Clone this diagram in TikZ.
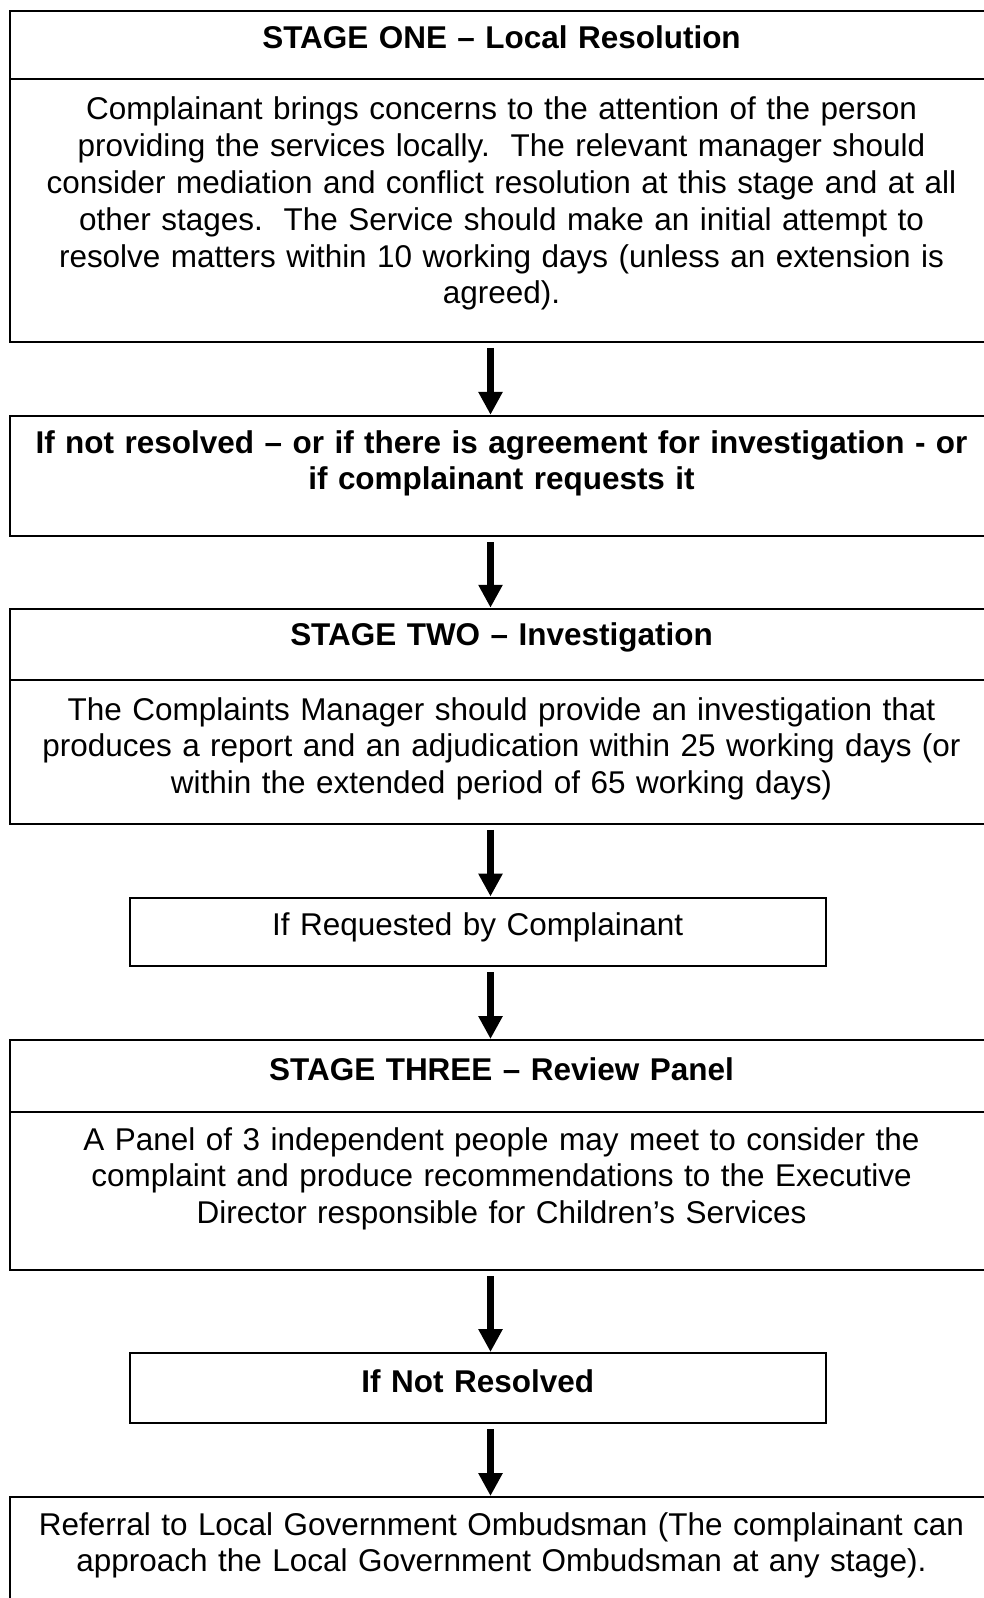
\documentclass[tikz,border=0pt]{standalone}
\usepackage{fontspec}
\setmainfont{Liberation Sans}
\usetikzlibrary{arrows.meta, fit}

\begin{document}
\begin{tikzpicture}[x=0.375pt, y=-0.375pt,
        frame/.style={draw=black, line width=0.75pt, inner sep=0pt},
        words/.style={anchor=base, inner sep=0pt, align=center, text width=362pt, font=\fontsize{11.8}{13.8}\selectfont},
        heading/.style={words, font=\fontsize{11.8}{13.8}\selectfont\bfseries},
        flow/.style={->, line width=2.6pt, shorten <=2pt},
        >={Triangle[length=8.6pt, width=8.6pt]}]
            \useasboundingbox (0, 0) rectangle (984, 1598);
            \clip (0, 0) rectangle (984, 1598);

            \node [frame, fit={(10, 11) (993, 79)}] (stage_one_head) {};
            \node [frame, fit={(10, 79) (993, 341.5)}] (stage_one_body) {};
            \node [frame, fit={(10, 415.8) (993, 535.7)}] (not_resolved_one) {};
            \node [frame, fit={(10, 608.7) (993, 679.6)}] (stage_two_head) {};
            \node [frame, fit={(10, 679.6) (993, 823.5)}] (stage_two_body) {};
            \node [frame, fit={(129.5, 897.5) (826, 966)}] (requested) {};
            \node [frame, fit={(10, 1040) (993, 1111.8)}] (stage_three_head) {};
            \node [frame, fit={(10, 1111.8) (993, 1270)}] (stage_three_body) {};
            \node [frame, fit={(129.5, 1353) (826, 1423)}] (not_resolved_two) {};
            \node [frame, fit={(10, 1497) (993, 1660)}] (ombudsman) {};

            \node [heading] (stage_one_title) at (501.5, 48.5) {STAGE ONE – Local Resolution};
            \node [words] (stage_one_text) at (501.5, 119.9) {Complainant brings concerns to the attention of the person\\
                providing the services locally.\ \ The relevant manager should\\
                consider mediation and conflict resolution at this stage and at all\\
                other stages.\ \ The Service should make an initial attempt to\\
                resolve matters within 10 working days (unless an extension is\\
                agreed).};
            \node [heading] (not_resolved_one_text) at (501.5, 453) {If not resolved – or if there is agreement for investigation - or\\
                if complainant requests it};
            \node [heading] (stage_two_title) at (501.5, 645.4) {STAGE TWO – Investigation};
            \node [words] (stage_two_text) at (501.5, 720) {The Complaints Manager should provide an investigation that\\
                produces a report and an adjudication within 25 working days (or\\
                within the extended period of 65 working days)};
            \node [words, text width=250pt] (requested_text) at (477.75, 935.8) {If Requested by Complainant};
            \node [heading] (stage_three_title) at (501.5, 1080) {STAGE THREE – Review Panel};
            \node [words] (stage_three_text) at (501.5, 1150) {A Panel of 3 independent people may meet to consider the\\
                complaint and produce recommendations to the Executive\\
                Director responsible for Children’s Services};
            \node [heading, text width=250pt] (not_resolved_two_text) at (477.75, 1392) {If Not Resolved};
            \node [words] (ombudsman_text) at (501.5, 1535) {Referral to Local Government Ombudsman (The complainant can\\
                approach the Local Government Ombudsman at any stage).};

            \coordinate (axis) at (490.5, 0);
            \draw [flow] (stage_one_body.south -| axis) -- (not_resolved_one.north -| axis);
            \draw [flow] (not_resolved_one.south -| axis) -- (stage_two_head.north -| axis);
            \draw [flow] (stage_two_body.south -| axis) -- (requested.north -| axis);
            \draw [flow] (requested.south -| axis) -- (stage_three_head.north -| axis);
            \draw [flow] (stage_three_body.south -| axis) -- (not_resolved_two.north -| axis);
            \draw [flow] (not_resolved_two.south -| axis) -- (ombudsman.north -| axis);
\end{tikzpicture}
\end{document}
